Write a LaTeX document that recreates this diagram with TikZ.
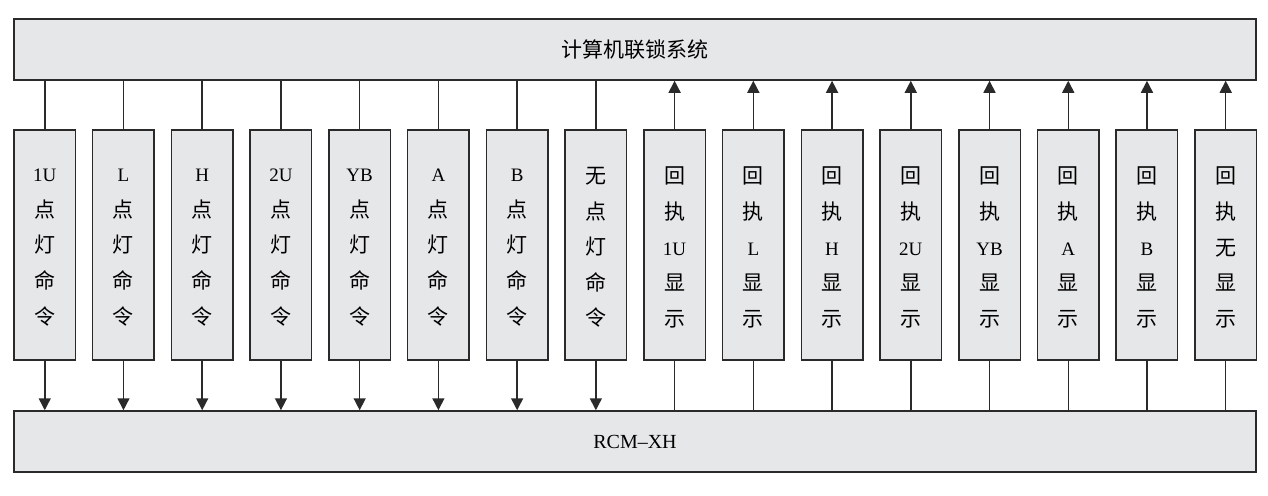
\documentclass[tikz,border=0pt]{standalone}
\usepackage{fontspec}
\setmainfont{Liberation Serif}
\newfontfamily\cjk{Noto Sans CJK SC}
\usetikzlibrary{arrows.meta}
\definecolor{boxfill}{HTML}{E6E7E8}
\definecolor{linecol}{HTML}{2A2A2A}
\newcommand\cj[1]{{\cjk\fontsize{21}{36}\selectfont #1}}
\begin{document}
\begin{tikzpicture}[x=1pt,y=-1pt,
  bigbox/.style={draw=linecol,line width=1.5pt,fill=boxfill,minimum width=1242pt,minimum height=61pt,inner sep=0pt},
  sigbox/.style={draw=linecol,line width=1.5pt,fill=boxfill,minimum width=61.5pt,minimum height=230pt,inner sep=0pt,align=center,font=\fontsize{19}{36}\selectfont},
  conn/.style={draw=linecol,line width=1.5pt},
  arr/.style={conn,-{Triangle[width=12pt,length=12pt]}}]
\useasboundingbox (0,0) rectangle (1268,495);
\node[bigbox] (top) at (635,49.5) {\fontsize{21}{24}\selectfont\cjk 计算机联锁系统};
\node[bigbox] (bot) at (635,441.5) {\fontsize{20}{24}\selectfont RCM–XH};
\foreach \l [count=\i] in {1U,L,H,2U,YB,A,B,\cj{无}} {
  \node[sigbox,text depth=0pt] (c\i) at ({44.75+(\i-1)*78.73},245) {};
  \node[align=center,font=\fontsize{19}{35.6}\selectfont,inner sep=0pt] (ct\i) at ([yshift=-2.5pt]c\i.center) {\l\\\cj{点}\\\cj{灯}\\\cj{命}\\\cj{令}};
  \draw[conn] (c\i.north) -- (c\i.north |- top.south);
  \draw[arr] (c\i.south) -- (c\i.south |- bot.north);
}
\foreach \l [count=\i] in {1U,L,H,2U,YB,A,B,\cj{无}} {
  \node[sigbox] (r\i) at ({44.75+(\i+7)*78.73},245) {};
  \node[align=center,font=\fontsize{19}{35.6}\selectfont,inner sep=0pt] (rt\i) at ([yshift=-2.5pt]r\i.center) {\cj{回}\\\cj{执}\\\l\\\cj{显}\\\cj{示}};
  \draw[arr] (r\i.north) -- (r\i.north |- top.south);
  \draw[conn] (r\i.south) -- (r\i.south |- bot.north);
}
\end{tikzpicture}
\end{document}
